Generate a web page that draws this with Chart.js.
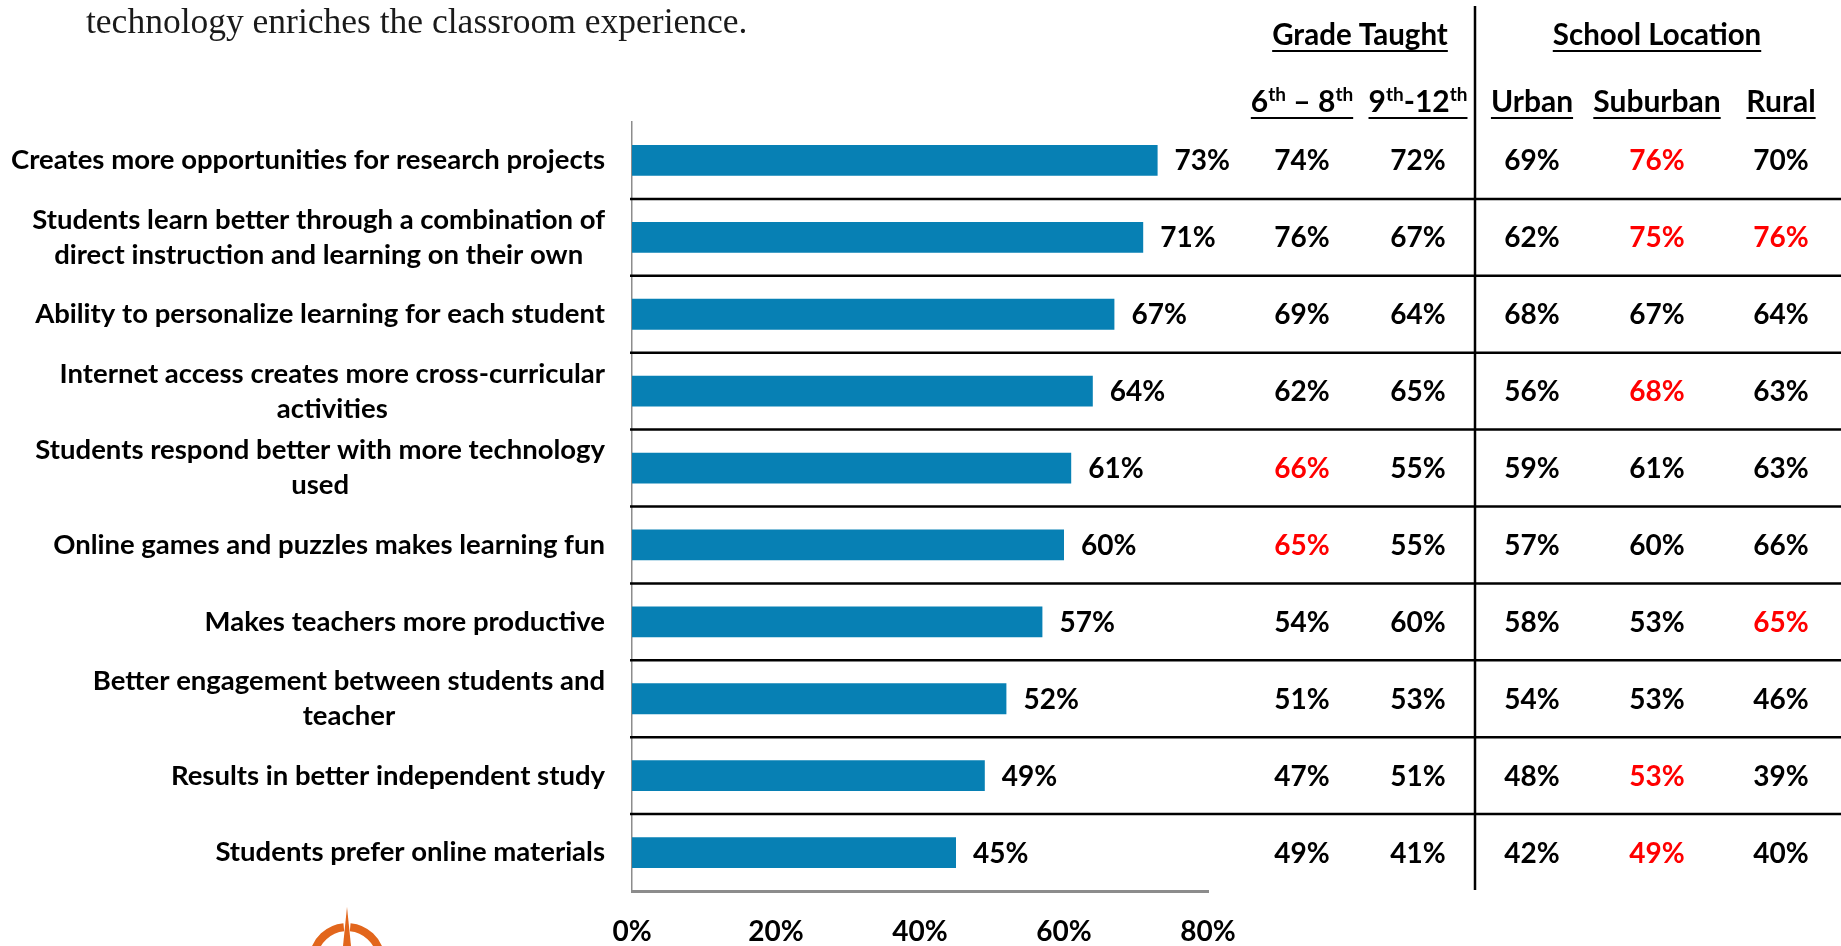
<!DOCTYPE html>
<html>
<head>
<meta charset="utf-8">
<script src="https://cdn.jsdelivr.net/npm/chart.js@4.4.1/dist/chart.umd.min.js"></script>
<style>
  html, body { margin: 0; padding: 0; background: #fff; overflow: hidden; }
  #chart { display: block; }
</style>
</head>
<body>
<canvas id="chart" width="1841" height="946"></canvas>
<script>
// ---- data ----
const categories = [
  'Creates more opportunities for research projects',
  ['Students learn better through a combination of', 'direct instruction and learning on their own'],
  'Ability to personalize learning for each student',
  ['Internet access creates more cross-curricular', 'activities'],
  ['Students respond better with more technology', 'used'],
  'Online games and puzzles makes learning fun',
  'Makes teachers more productive',
  ['Better engagement between students and', 'teacher'],
  'Results in better independent study',
  'Students prefer online materials'
];
const totalValues = [73, 71, 67, 64, 61, 60, 57, 52, 49, 45];
const grade6to8  = [74, 76, 69, 62, 66, 65, 54, 51, 47, 49];
const grade9to12 = [72, 67, 64, 65, 55, 55, 60, 53, 51, 41];
const urban      = [69, 62, 68, 56, 59, 57, 58, 54, 48, 42];
const suburban   = [76, 75, 67, 68, 61, 60, 53, 53, 53, 49];
const rural      = [70, 76, 64, 63, 63, 66, 65, 46, 39, 40];
// rows shown in red in each column
const red6to8 = [4, 5];
const red9to12 = [];
const redUrban = [];
const redSuburban = [0, 1, 3, 8, 9];
const redRural = [1, 6];
const xTicks = [0, 20, 40, 60, 80];
const groupHeaders = ['Grade Taught', 'School Location'];
const subtitle = 'technology enriches the classroom experience.';

// ---- styling ----
const FONT = 'Lato, "Open Sans", sans-serif';
const BAR_COLOR = '#0780b4';
const RED = '#ff0000';

const columns = [
  { x: 1302, values: grade6to8, red: red6to8, head: [['6'], ['th', 1], [' \u2013 8'], ['th', 1]] },
  { x: 1418, values: grade9to12, red: red9to12, head: [['9'], ['th', 1], ['-12'], ['th', 1]] },
  { x: 1532, values: urban, red: redUrban, head: [['Urban']] },
  { x: 1657, values: suburban, red: redSuburban, head: [['Suburban']] },
  { x: 1781, values: rural, red: redRural, head: [['Rural']] }
];

function drawRich(ctx, parts, cx, baseline, size) {
  const widths = parts.map(p => {
    ctx.font = `bold ${p[1] ? Math.round(size * 0.62) : size}px ${FONT}`;
    return ctx.measureText(p[0]).width;
  });
  const total = widths.reduce((a, b) => a + b, 0);
  let xx = cx - total / 2;
  ctx.textAlign = 'left';
  ctx.textBaseline = 'alphabetic';
  parts.forEach((p, i) => {
    ctx.font = `bold ${p[1] ? Math.round(size * 0.62) : size}px ${FONT}`;
    ctx.fillText(p[0], xx, p[1] ? baseline - size * 0.36 : baseline);
    xx += widths[i];
  });
  return total;
}

const tablePlugin = {
  id: 'table',
  afterDraw(chart) {
    const { ctx, scales: { x, y } } = chart;
    const rowY = i => y.getPixelForValue(i);
    ctx.save();

    // row separators
    ctx.strokeStyle = '#000';
    ctx.lineWidth = 2.5;
    for (let i = 0; i < categories.length - 1; i++) {
      const yy = (rowY(i) + rowY(i + 1)) / 2;
      ctx.beginPath();
      ctx.moveTo(x.left - 2, yy);
      ctx.lineTo(chart.width, yy);
      ctx.stroke();
    }
    // vertical divider between the two groups
    ctx.beginPath();
    ctx.moveTo(1475, 6);
    ctx.lineTo(1475, y.bottom - 1);
    ctx.stroke();

    // category labels, block right-aligned, lines centred
    ctx.fillStyle = '#000';
    ctx.textBaseline = 'middle';
    ctx.textAlign = 'center';
    ctx.font = `bold 27.5px ${FONT}`;
    categories.forEach((lab, i) => {
      const lines = Array.isArray(lab) ? lab : [lab];
      const w = Math.max(...lines.map(l => ctx.measureText(l).width));
      const cx = 605 - w / 2;
      const cy = rowY(i);
      lines.forEach((l, k) => {
        ctx.fillText(l, cx, cy + (k - (lines.length - 1) / 2) * 35);
      });
    });

    // bar value labels
    ctx.font = `bold 28px ${FONT}`;
    ctx.textAlign = 'left';
    const meta = chart.getDatasetMeta(0);
    meta.data.forEach((bar, i) => {
      ctx.fillText(totalValues[i] + '%', bar.x + 17, bar.y + 1);
    });

    // table cells
    ctx.textAlign = 'center';
    columns.forEach(col => {
      col.values.forEach((v, i) => {
        ctx.fillStyle = col.red.includes(i) ? RED : '#000';
        ctx.fillText(v + '%', col.x, rowY(i) + 1);
      });
    });

    // headers
    ctx.fillStyle = '#000';
    ctx.strokeStyle = '#000';
    ctx.lineWidth = 2;
    const groupX = [1360, 1657];
    ctx.font = `bold 29.5px ${FONT}`;
    ctx.textBaseline = 'alphabetic';
    groupHeaders.forEach((h, g) => {
      const w = ctx.measureText(h).width;
      ctx.fillText(h, groupX[g], 45);
      ctx.beginPath();
      ctx.moveTo(groupX[g] - w / 2, 51);
      ctx.lineTo(groupX[g] + w / 2, 51);
      ctx.stroke();
    });
    columns.forEach(col => {
      const w = drawRich(ctx, col.head, col.x, 112, 30);
      ctx.beginPath();
      ctx.moveTo(col.x - w / 2, 118);
      ctx.lineTo(col.x + w / 2, 118);
      ctx.stroke();
    });

    // subtitle fragment at top
    ctx.font = `35.5px "Liberation Serif", "DejaVu Serif", serif`;
    ctx.fillStyle = '#1a1a1a';
    ctx.textAlign = 'left';
    ctx.fillText(subtitle, 86, 33);

    // cropped logo at bottom left
    ctx.strokeStyle = '#e2661c';
    ctx.lineWidth = 8;
    ctx.beginPath();
    ctx.arc(347, 961, 34, Math.PI * 1.05, Math.PI * 1.47);
    ctx.stroke();
    ctx.beginPath();
    ctx.arc(347, 961, 34, Math.PI * 1.53, Math.PI * 1.95);
    ctx.stroke();
    ctx.fillStyle = '#e2661c';
    ctx.beginPath();
    ctx.moveTo(347, 907);
    ctx.lineTo(351, 946);
    ctx.lineTo(343, 946);
    ctx.closePath();
    ctx.fill();

    ctx.restore();
  }
};

new Chart(document.getElementById('chart'), {
  type: 'bar',
  data: {
    labels: categories,
    datasets: [{
      data: totalValues,
      backgroundColor: BAR_COLOR,
      borderWidth: 0,
      barPercentage: 0.4,
      categoryPercentage: 1
    }]
  },
  options: {
    indexAxis: 'y',
    responsive: false,
    animation: false,
    devicePixelRatio: 1,
    layout: { padding: { left: 632, right: 633, top: 122, bottom: 0 } },
    scales: {
      x: {
        min: 0,
        max: 80,
        afterBuildTicks: axis => { axis.ticks = xTicks.map(v => ({ value: v })); },
        afterFit: axis => { axis.height = 55; },
        grid: { display: false, drawTicks: false },
        border: { display: true, color: '#8c8c8c', width: 3 },
        ticks: {
          padding: 27,
          color: '#000',
          font: { family: FONT, size: 28, weight: 'bold', lineHeight: 1 },
          callback: v => v + '%'
        }
      },
      y: {
        grid: { display: false, drawTicks: false },
        border: { display: true, color: '#8c8c8c', width: 1.5 },
        ticks: { display: false }
      }
    },
    plugins: {
      legend: { display: false },
      tooltip: { enabled: false }
    }
  },
  plugins: [tablePlugin]
});
</script>
</body>
</html>
